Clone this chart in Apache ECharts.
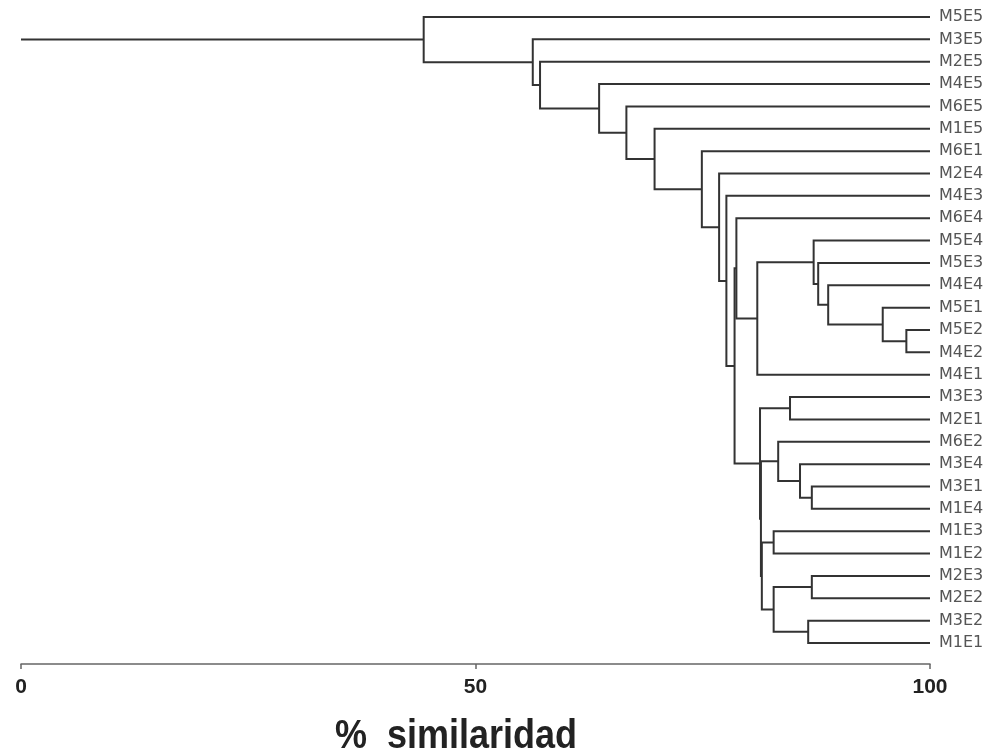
<!DOCTYPE html>
<html><head><meta charset="utf-8">
<script src="https://cdn.jsdelivr.net/npm/echarts@6/dist/echarts.min.js"></script>
<style>html,body{margin:0;padding:0;background:#fff}#c{width:991px;height:753px}</style>
</head><body><div id="c"></div>
<script>
const leaves = ['M5E5','M3E5','M2E5','M4E5','M6E5','M1E5','M6E1','M2E4','M4E3','M6E4',
  'M5E4','M5E3','M4E4','M5E1','M5E2','M4E2','M4E1','M3E3','M2E1','M6E2',
  'M3E4','M3E1','M1E4','M1E3','M1E2','M2E3','M2E2','M3E2','M1E1'];

// [child A, child B, % similarity]; node k is referred to as 'n'+k
const merges = [
  ['M5E2','M4E2',97.4],
  ['M5E1','n0',94.8],
  ['M4E4','n1',88.8],
  ['M5E3','n2',87.7],
  ['M5E4','n3',87.2],
  ['n4','M4E1',81.0],
  ['M6E4','n5',78.7],
  ['M3E3','M2E1',84.6],
  ['M3E1','M1E4',87.0],
  ['M3E4','n8',85.7],
  ['M6E2','n9',83.3],
  ['M1E3','M1E2',82.8],
  ['M2E3','M2E2',87.0],
  ['M3E2','M1E1',86.6],
  ['n12','n13',82.8],
  ['n11','n14',81.5],
  ['n10','n15',81.4],
  ['n7','n16',81.3],
  ['n6','n17',78.5],
  ['M4E3','n18',77.6],
  ['M2E4','n19',76.8],
  ['M6E1','n20',74.9],
  ['M1E5','n21',69.7],
  ['M6E5','n22',66.6],
  ['M4E5','n23',63.6],
  ['M2E5','n24',57.1],
  ['M3E5','n25',56.3],
  ['M5E5','n26',44.3]
];

const xTicks = [0, 50, 100];
const axisTitle = '%  similaridad';

const pos = {};
leaves.forEach((n, i) => { pos[n] = {x: 100, y: i}; });
const segs = [];
merges.forEach((m, k) => {
  const a = pos[m[0]], b = pos[m[1]], s = m[2];
  segs.push([s, a.y, b.y, a.x, b.x]);
  pos['n' + k] = {x: s, y: (a.y + b.y) / 2};
});
const root = pos['n' + (merges.length - 1)];
segs.push([root.x, root.y, root.y, xTicks[0], root.x]);

const chart = echarts.init(document.getElementById('c'), null, {renderer: 'canvas'});
chart.setOption({
  animation: false,
  backgroundColor: '#fff',
  grid: {left: 21, right: 61, top: 17, bottom: 110, containLabel: false},
  xAxis: {
    type: 'value', min: xTicks[0], max: xTicks[xTicks.length - 1], interval: 50,
    position: 'bottom', offset: 21,
    splitLine: {show: false},
    axisLine: {show: true, onZero: false, lineStyle: {color: '#666', width: 1.5}},
    axisTick: {show: true, length: 5, lineStyle: {color: '#666', width: 1.5}},
    axisLabel: {color: '#222', fontSize: 21, fontWeight: 'bold', margin: 13,
      fontFamily: '"Liberation Sans", Arial, sans-serif'}
  },
  yAxis: {
    type: 'value', min: 0, max: leaves.length - 1, interval: 1, inverse: true,
    position: 'right',
    splitLine: {show: false}, axisLine: {show: false}, axisTick: {show: false},
    axisLabel: {color: '#555', fontSize: 16, margin: 9,
      fontFamily: '"DejaVu Sans", sans-serif',
      formatter: v => leaves[v] || ''}
  },
  graphic: [{
    type: 'text', left: 335, top: 716, scaleY: 1.15,
    style: {text: axisTitle, fill: '#222', fontSize: 36, fontWeight: 'bold',
      fontFamily: '"Liberation Sans", Arial, sans-serif'}
  }],
  series: [{
    type: 'custom',
    clip: false,
    data: segs,
    encode: {x: [0, 3, 4], y: [1, 2]},
    renderItem: function (params, api) {
      const s = api.value(0), ya = api.value(1), yb = api.value(2), xa = api.value(3), xb = api.value(4);
      return {
        type: 'polyline',
        shape: {points: [api.coord([xa, ya]), api.coord([s, ya]), api.coord([s, yb]), api.coord([xb, yb])]},
        style: {stroke: '#333', lineWidth: 2, fill: null, lineJoin: 'miter'}
      };
    }
  }]
});
</script></body></html>
